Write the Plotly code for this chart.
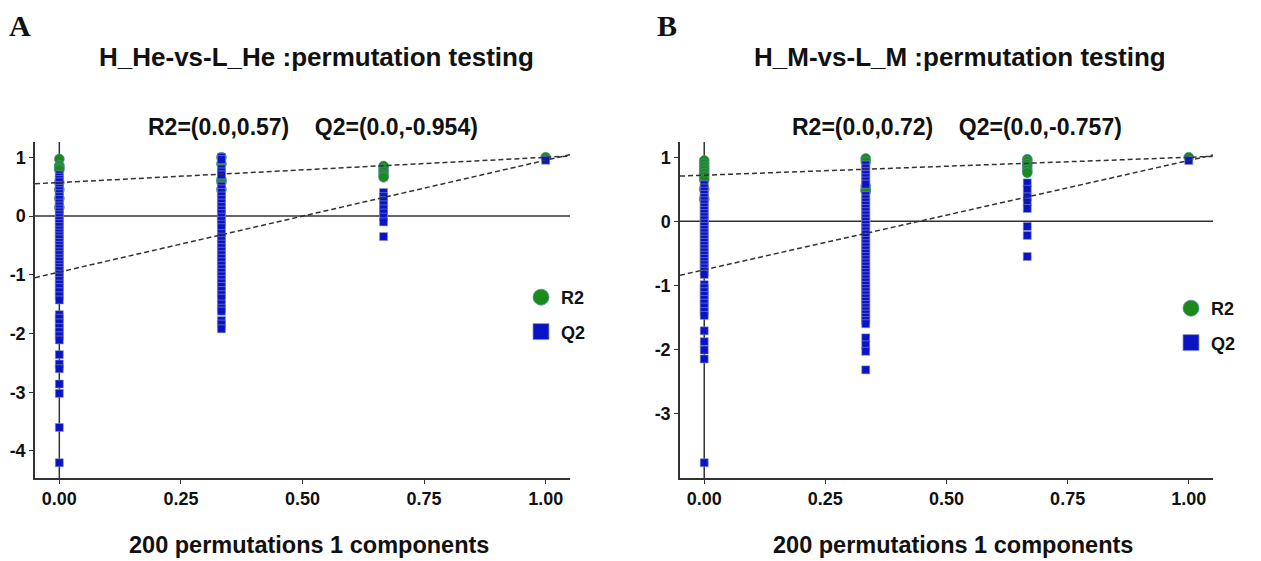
import plotly.graph_objects as go

# ---------------- data ----------------
x_levels = [0.0, 1/3, 2/3, 1.0]

# Panel A : H_He-vs-L_He
A_title = "H_He-vs-L_He :permutation testing"
A_sub = "R2=(0.0,0.57)\u00a0\u00a0\u00a0\u00a0Q2=(0.0,-0.954)"
A_r2_int, A_q2_int = 0.57, -0.954
A_R2 = {
    0: [0.97, 0.86, 0.82, 0.79, 0.57, 0.45, 0.30, 0.15],
    1: [1.0, 0.89, 0.62, 0.58, 0.45],
    2: [0.85, 0.80, 0.75, 0.70, 0.66],
    3: [1.0],
}
A_Q2 = {
    0: [0.70, 0.66, 0.62, 0.58, 0.52, 0.47, 0.43, 0.38, 0.33, 0.28, 0.22, 0.17, 0.12, 0.07,
        0.02, -0.03, -0.08, -0.13, -0.18, -0.24, -0.29, -0.34, -0.39, -0.45, -0.50, -0.55,
        -0.61, -0.66, -0.72, -0.77, -0.83, -0.88, -0.93, -0.99, -1.04, -1.10, -1.16, -1.22,
        -1.29, -1.36, -1.43, -1.68, -1.74, -1.82, -1.90, -1.97, -2.04, -2.11, -2.36, -2.52,
        -2.60, -2.86, -3.02, -3.60, -4.20],
    1: [1.0, 0.96, 0.80, 0.75, 0.70, 0.51, 0.46, 0.40, 0.34, 0.28, 0.22, 0.16, 0.10,
        0.04, -0.02, -0.08, -0.14, -0.20, -0.30, -0.36, -0.42, -0.48, -0.54, -0.60, -0.66,
        -0.72, -0.78, -0.84, -0.90, -0.96, -1.02, -1.08, -1.14, -1.20, -1.27, -1.34, -1.40,
        -1.50, -1.57, -1.62, -1.78, -1.84, -1.92],
    2: [0.40, 0.33, 0.26, 0.19, 0.12, 0.05, -0.02, -0.10, -0.35],
    3: [0.95],
}

# Panel B : H_M-vs-L_M
B_title = "H_M-vs-L_M :permutation testing"
B_sub = "R2=(0.0,0.72)\u00a0\u00a0\u00a0\u00a0Q2=(0.0,-0.757)"
B_r2_int, B_q2_int = 0.72, -0.757
B_R2 = {
    0: [0.95, 0.90, 0.85, 0.80, 0.75, 0.70, 0.65, 0.50, 0.35],
    1: [0.98, 0.93, 0.55, 0.50, 0.47],
    2: [0.97, 0.93, 0.89, 0.85, 0.80, 0.76],
    3: [1.0],
}
B_Q2 = {
    0: [0.57, 0.52, 0.47, 0.42, 0.37, 0.32, 0.27, 0.22, 0.17, 0.12, 0.07, 0.02, -0.03, -0.08,
        -0.13, -0.18, -0.23, -0.28, -0.33, -0.38, -0.43, -0.48, -0.53, -0.58, -0.63, -0.68,
        -0.73, -0.78, -0.83, -0.99, -1.04, -1.10, -1.16, -1.22, -1.28, -1.34, -1.41, -1.47,
        -1.71, -1.88, -2.01, -2.15, -3.77],
    1: [0.88, 0.83, 0.78, 0.73, 0.68, 0.63, 0.58, 0.40, 0.35, 0.30, 0.25, 0.20, 0.15, 0.10,
        0.05, 0.0, -0.05, -0.10, -0.15, -0.20, -0.25, -0.30, -0.35, -0.40, -0.45, -0.50,
        -0.55, -0.60, -0.65, -0.70, -0.75, -0.80, -0.85, -0.90, -0.95, -1.00, -1.05, -1.10,
        -1.15, -1.20, -1.25, -1.30, -1.35, -1.40, -1.45, -1.50, -1.55, -1.60, -1.82, -1.93,
        -2.03, -2.32],
    2: [0.60, 0.50, 0.38, 0.30, 0.20, -0.08, -0.22, -0.55],
    3: [0.95],
}

x_ticks = [0.0, 0.25, 0.5, 0.75, 1.0]
x_tick_text = ["0.00", "0.25", "0.50", "0.75", "1.00"]
A_y_ticks = [1, 0, -1, -2, -3, -4]
B_y_ticks = [1, 0, -1, -2, -3]
x_title = "200 permutations 1 components"

# ---------------- styles ----------------
GREEN = "#1b8a1b"
BLUE = "#0a14c4"
FONT = "Arial, Liberation Sans, sans-serif"
SERIF = "Liberation Serif, Times New Roman, serif"

# page has an 8px body margin: map reference pixels to paper fractions
OFF = 8
W, H = 1261 - OFF, 561 - OFF


def px(v):
    return (v - OFF) / W


def py(v):
    return 1 - (v - OFF) / H


fig = go.Figure()


def flat(d):
    xs, ys = [], []
    for k, vals in d.items():
        for v in vals:
            xs.append(x_levels[k])
            ys.append(v)
    return xs, ys


def add_panel(R2, Q2, r2_int, q2_int, xa, ya, legend):
    xr, yr = flat(R2)
    xq, yq = flat(Q2)
    fig.add_trace(go.Scatter(x=xr, y=yr, mode="markers", xaxis=xa, yaxis=ya,
                             marker=dict(symbol="circle", size=10, color=GREEN,
                                         line=dict(color="#5a8fb0", width=0.6)),
                             showlegend=False, hoverinfo="skip"))
    fig.add_trace(go.Scatter(x=xq, y=yq, mode="markers", xaxis=xa, yaxis=ya,
                             marker=dict(symbol="square", size=8, color=BLUE,
                                         line=dict(color="#8a94c0", width=0.6)),
                             showlegend=False, hoverinfo="skip"))
    # regression lines from intercept to unpermuted model value
    r2_end = R2[3][0]
    q2_end = Q2[3][0]
    lx = [-0.05, 1.05]
    for inter, end in [(r2_int, r2_end), (q2_int, q2_end)]:
        fig.add_trace(go.Scatter(x=lx, y=[inter + (end - inter) * v for v in lx],
                                 mode="lines", xaxis=xa, yaxis=ya,
                                 line=dict(color="#333333", width=1.5, dash="5px,3px"),
                                 showlegend=False, hoverinfo="skip"))
    # legend entries
    fig.add_trace(go.Scatter(x=[None], y=[None], mode="markers", name="R2", xaxis=xa, yaxis=ya,
                             marker=dict(symbol="circle", size=16, color=GREEN,
                                         line=dict(color="#5a8fb0", width=0.8)),
                             legend=legend, legendgroup=legend + "r"))
    fig.add_trace(go.Scatter(x=[None], y=[None], mode="markers", name="Q2", xaxis=xa, yaxis=ya,
                             marker=dict(symbol="square", size=16, color=BLUE,
                                         line=dict(color="#8a94c0", width=0.8)),
                             legend=legend, legendgroup=legend + "q"))
    allv = yr + yq
    lo, hi = min(allv), max(allv)
    pad = (hi - lo) * 0.05
    return [lo - pad, hi + pad]


A_yrange = add_panel(A_R2, A_Q2, A_r2_int, A_q2_int, "x", "y", "legend")
B_yrange = add_panel(B_R2, B_Q2, B_r2_int, B_q2_int, "x2", "y2", "legend2")

axis_common = dict(showline=True, linecolor="#333333", linewidth=1.5, ticks="outside",
                   ticklen=4, tickcolor="#333333", showgrid=False, zeroline=False,
                   tickfont=dict(family=FONT, size=18, color="#111111", weight="bold"))

A_dom_x = [px(35), px(570)]
B_dom_x = [px(680), px(1213)]
dom_y = [py(478), py(142)]

legend_font = dict(family=FONT, size=18, color="#111111", weight="bold")
fig.update_layout(
    width=W, height=H, margin=dict(l=0, r=0, t=0, b=0),
    plot_bgcolor="white", paper_bgcolor="white",
    xaxis=dict(domain=A_dom_x, range=[-0.05, 1.05], tickvals=x_ticks, ticktext=x_tick_text,
               anchor="y", **axis_common),
    yaxis=dict(domain=dom_y, range=A_yrange, tickvals=A_y_ticks,
               ticktext=[str(v) for v in A_y_ticks], anchor="x", **axis_common),
    xaxis2=dict(domain=B_dom_x, range=[-0.05, 1.05], tickvals=x_ticks, ticktext=x_tick_text,
                anchor="y2", **axis_common),
    yaxis2=dict(domain=dom_y, range=B_yrange, tickvals=B_y_ticks,
                ticktext=[str(v) for v in B_y_ticks], anchor="x2", **axis_common),
    legend=dict(x=px(521), y=py(279), xanchor="left", yanchor="top", font=legend_font,
                tracegroupgap=8, bgcolor="rgba(0,0,0,0)"),
    legend2=dict(x=px(1171), y=py(290), xanchor="left", yanchor="top", font=legend_font,
                 tracegroupgap=8, bgcolor="rgba(0,0,0,0)"),
)

# zero reference lines
for xa, ya in [("x", "y"), ("x2", "y2")]:
    fig.add_shape(type="line", xref=xa + " domain", yref=ya, x0=0, x1=1, y0=0, y1=0,
                  line=dict(color="#333333", width=1.5), layer="below")
    fig.add_shape(type="line", xref=xa, yref=ya + " domain", x0=0, x1=0, y0=0, y1=1,
                  line=dict(color="#333333", width=1.5), layer="below")

ann = []
for cx, title, sub in [(316, A_title, A_sub), (960, B_title, B_sub)]:
    ann.append(dict(x=px(cx), y=py(57), text=title, showarrow=False, xref="paper",
                    yref="paper", xanchor="center", yanchor="middle",
                    font=dict(family=FONT, size=26, color="#111111", weight="bold")))
    ann.append(dict(x=px(cx - 3), y=py(127), text=sub, showarrow=False, xref="paper",
                    yref="paper", xanchor="center", yanchor="middle",
                    font=dict(family=FONT, size=23, color="#111111", weight="bold")))
    ann.append(dict(x=px(cx - 7), y=py(545), text=x_title, showarrow=False, xref="paper",
                    yref="paper", xanchor="center", yanchor="middle",
                    font=dict(family=FONT, size=23.5, color="#111111", weight="bold")))
for lx_, lab in [(20, "A"), (667, "B")]:
    ann.append(dict(x=px(lx_), y=py(25), text=lab, showarrow=False, xref="paper",
                    yref="paper", xanchor="center", yanchor="middle",
                    font=dict(family=SERIF, size=30, color="#111111", weight="bold")))
fig.update_layout(annotations=ann)

fig.write_html("out.html")
